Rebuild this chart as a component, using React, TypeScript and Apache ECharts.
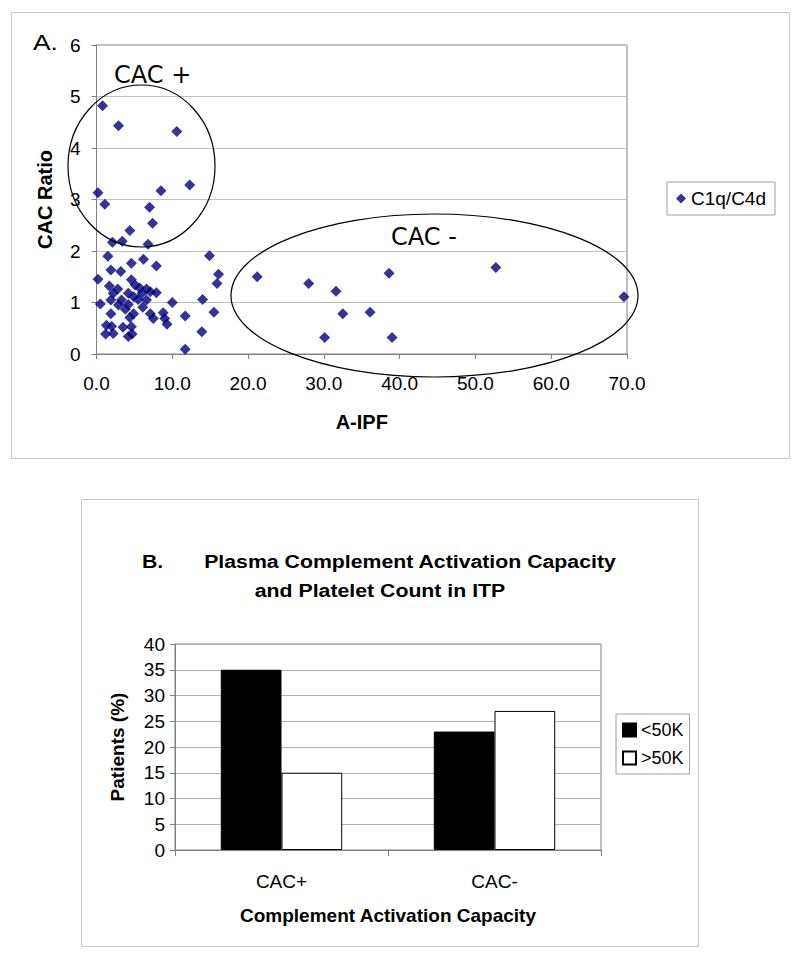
import React, { useEffect, useRef } from "react";
import * as echarts from "echarts";

// Panel A: scatter data (A-IPF vs CAC Ratio)
const aipf = [
  0.8, 2.9, 10.6, 0.2, 8.5, 12.3, 1.1, 7.0, 7.4, 4.4, 2.1, 3.4, 6.8, 1.5, 6.2, 4.6, 7.9, 1.9, 3.2, 0.2,
  4.6, 1.7, 5.1, 2.8, 5.7, 6.6, 2.2, 4.2, 6.0, 7.1, 7.9, 0.5, 1.9, 3.3, 4.9, 2.9, 4.2, 5.5, 6.6, 10.0,
  3.8, 6.1, 1.9, 4.9, 7.1, 8.8, 4.4, 7.5, 9.0, 11.7, 1.3, 2.0, 3.5, 4.6, 9.3, 1.2, 2.2, 4.2, 4.7, 11.7,
  14.0, 14.9, 16.1, 15.9, 15.5, 13.9, 21.2, 28.0, 31.6, 38.6, 32.5, 36.1, 30.1, 39.0, 52.7, 69.6,
];
const cacRatio = [
  4.82, 4.43, 4.32, 3.13, 3.17, 3.28, 2.91, 2.85, 2.54, 2.4, 2.17, 2.19, 2.13, 1.9, 1.84, 1.76, 1.71, 1.63, 1.6, 1.45,
  1.44, 1.32, 1.34, 1.26, 1.28, 1.26, 1.18, 1.18, 1.18, 1.21, 1.19, 0.97, 1.05, 1.05, 1.11, 0.95, 0.96, 1.06, 1.05, 1.0,
  0.87, 0.91, 0.78, 0.78, 0.78, 0.8, 0.71, 0.69, 0.69, 0.74, 0.56, 0.54, 0.52, 0.53, 0.58, 0.39, 0.4, 0.34, 0.39, 0.09,
  1.06, 1.91, 1.55, 1.37, 0.81, 0.43, 1.5, 1.37, 1.22, 1.57, 0.78, 0.81, 0.32, 0.32, 1.68, 1.11,
];
const scatterName = "C1q/C4d";

// Panel B: bar data
const cacCategories = ["CAC+", "CAC-"];
const below50K = [35, 23];
const above50K = [15, 27];
const barSeriesNames = ["<50K", ">50K"];

const FONT = "'Liberation Sans', Arial, sans-serif";

export default function App() {
  const ref = useRef<HTMLDivElement>(null);

  useEffect(() => {
    if (!ref.current) return;
    const chart = echarts.init(ref.current, undefined, { renderer: "svg" });
    const scatterData = aipf.map((x, i) => [x, cacRatio[i]]);

    chart.setOption({
      animation: false,
      backgroundColor: "#ffffff",
      textStyle: { fontFamily: FONT, color: "#000" },
      grid: [
        { left: 96.5, right: 173, top: 45, bottom: 613, show: true, borderColor: "#808080", borderWidth: 1 },
        { left: 175, right: 199, top: 644, bottom: 117, show: true, borderColor: "#808080", borderWidth: 1 },
      ],
      xAxis: [
        {
          type: "value",
          gridIndex: 0,
          min: 0,
          max: 70,
          interval: 10,
          name: "A-IPF",
          nameLocation: "middle",
          nameGap: 58,
          nameTextStyle: { fontSize: 20, fontWeight: "bold", color: "#000", fontFamily: FONT },
          axisLine: { lineStyle: { color: "#808080" } },
          axisTick: { show: true, length: 5, lineStyle: { color: "#808080" } },
          axisLabel: { fontSize: 19, color: "#000", margin: 20, formatter: (v: number) => v.toFixed(1) },
          splitLine: { show: false },
        },
        {
          type: "category",
          gridIndex: 1,
          data: cacCategories,
          name: "Complement Activation Capacity",
          nameLocation: "middle",
          nameGap: 56,
          nameTextStyle: { fontSize: 19, fontWeight: "bold", color: "#000", fontFamily: FONT },
          axisLine: { lineStyle: { color: "#808080" } },
          axisTick: { show: true, length: 6, alignWithLabel: false, lineStyle: { color: "#808080" } },
          axisLabel: { fontSize: 19, color: "#000", margin: 22 },
        },
      ],
      yAxis: [
        {
          type: "value",
          gridIndex: 0,
          min: 0,
          max: 6,
          interval: 1,
          name: "CAC Ratio",
          nameLocation: "middle",
          nameGap: 42,
          nameTextStyle: { fontSize: 20, fontWeight: "bold", color: "#000", fontFamily: FONT },
          axisLine: { show: true, lineStyle: { color: "#808080" } },
          axisTick: { show: true, length: 5, lineStyle: { color: "#808080" } },
          axisLabel: { fontSize: 19, color: "#000", margin: 16 },
          splitLine: { show: true, lineStyle: { color: "#c0c0c0" } },
        },
        {
          type: "value",
          gridIndex: 1,
          min: 0,
          max: 40,
          interval: 5,
          name: "Patients (%)",
          nameLocation: "middle",
          nameGap: 48,
          nameTextStyle: { fontSize: 19, fontWeight: "bold", color: "#000", fontFamily: FONT },
          axisLine: { show: true, lineStyle: { color: "#808080" } },
          axisTick: { show: true, length: 5, lineStyle: { color: "#808080" } },
          axisLabel: { fontSize: 19, color: "#000", margin: 10 },
          splitLine: { show: true, lineStyle: { color: "#b0b0b0" } },
        },
      ],
      legend: [
        {
          data: [{ name: scatterName, icon: "diamond" }],
          left: 667,
          top: 182,
          padding: [7, 9],
          itemWidth: 10,
          itemHeight: 10,
          borderColor: "#a0a0a0",
          borderWidth: 1,
          textStyle: { fontSize: 19, color: "#000", fontFamily: FONT },
        },
        {
          data: barSeriesNames.map((n) => ({ name: n, icon: "rect" })),
          orient: "vertical",
          left: 616,
          top: 714,
          padding: [7, 6],
          itemGap: 10,
          itemWidth: 13,
          itemHeight: 13,
          borderColor: "#a0a0a0",
          borderWidth: 1,
          textStyle: { fontSize: 18, color: "#000", fontFamily: FONT },
        },
      ],
      series: [
        {
          type: "scatter",
          name: scatterName,
          xAxisIndex: 0,
          yAxisIndex: 0,
          symbol: "diamond",
          symbolSize: 11,
          itemStyle: { color: "#000080" },
          data: scatterData,
          z: 3,
        },
        {
          type: "bar",
          name: barSeriesNames[0],
          xAxisIndex: 1,
          yAxisIndex: 1,
          data: below50K,
          barGap: "0%",
          barCategoryGap: "43%",
          itemStyle: { color: "#000000", borderColor: "#000000", borderWidth: 1 },
        },
        {
          type: "bar",
          name: barSeriesNames[1],
          xAxisIndex: 1,
          yAxisIndex: 1,
          data: above50K,
          barGap: "0%",
          barCategoryGap: "43%",
          itemStyle: { color: "#ffffff", borderColor: "#000000", borderWidth: 1 },
        },
      ],
      graphic: [
        // outer frames
        { type: "rect", shape: { x: 11.5, y: 12.5, width: 778, height: 446 }, style: { fill: "none", stroke: "#c8c8c8", lineWidth: 1 }, silent: true },
        { type: "rect", shape: { x: 81.5, y: 499.5, width: 617, height: 447 }, style: { fill: "none", stroke: "#c8c8c8", lineWidth: 1 }, silent: true },
        // panel label A.
        { type: "text", x: 33, y: 42, scaleX: 1.2, style: { text: "A.", fontSize: 22, fontFamily: FONT, fill: "#000", verticalAlign: "middle" } },
        // annotations
        { type: "ellipse", shape: { cx: 141.5, cy: 166, rx: 73.5, ry: 81 }, style: { fill: "none", stroke: "#000", lineWidth: 1.2 }, z: 10 },
        { type: "ellipse", shape: { cx: 434.5, cy: 295.5, rx: 203.5, ry: 81.5 }, style: { fill: "none", stroke: "#000", lineWidth: 1.2 }, z: 10 },
        { type: "text", x: 114, y: 75, style: { text: "CAC +", fontSize: 24, fontFamily: "'DejaVu Sans', sans-serif", fill: "#000", verticalAlign: "middle" }, z: 10 },
        { type: "text", x: 391, y: 237, style: { text: "CAC -", fontSize: 24, fontFamily: "'DejaVu Sans', sans-serif", fill: "#000", verticalAlign: "middle" }, z: 10 },
        // panel B title
        { type: "text", x: 142, y: 561, scaleX: 1.12, style: { text: "B.", fontSize: 19, fontWeight: "bold", fontFamily: FONT, fill: "#000", verticalAlign: "middle" } },
        { type: "text", x: 410, y: 561, scaleX: 1.12, style: { text: "Plasma Complement Activation Capacity", fontSize: 19, fontWeight: "bold", fontFamily: FONT, fill: "#000", align: "center", verticalAlign: "middle" } },
        { type: "text", x: 380, y: 590, scaleX: 1.12, style: { text: "and Platelet Count in ITP", fontSize: 19, fontWeight: "bold", fontFamily: FONT, fill: "#000", align: "center", verticalAlign: "middle" } },
      ],
    });

    return () => chart.dispose();
  }, []);

  return (
    <div
      ref={ref}
      style={{ position: "fixed", left: 0, top: 0, width: 800, height: 967, background: "#fff" }}
    />
  );
}
